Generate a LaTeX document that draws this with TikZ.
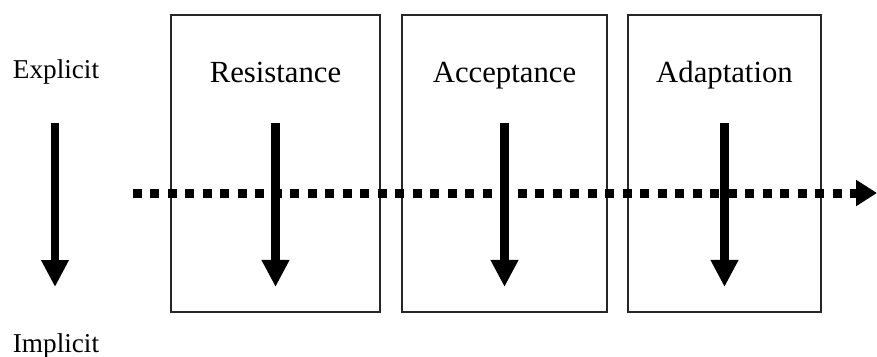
\documentclass[tikz,border=0pt]{standalone}
\usepackage{fontspec}
\setmainfont{Liberation Serif}
\usetikzlibrary{arrows.meta}
\tikzset{
  stagebox/.style={draw=black!85,line width=0.9pt,minimum height=5.94cm,inner sep=0pt},
  stagename/.style={anchor=base,inner sep=0pt,font=\fontsize{17.5}{20}\selectfont},
  sidename/.style={anchor=base,inner sep=0pt,font=\fontsize{15.5}{18}\selectfont},
  downarrow/.style={line width=0.18cm,-{Triangle[width=0.52cm,length=0.54cm]}},
  flowarrow/.style={line width=0.18cm,dash pattern=on 0.18cm off 0.17cm,-{Triangle[width=0.5cm,length=0.42cm]}}
}
\begin{document}
\begin{tikzpicture}[x=0.02cm,y=-0.02cm]
  \useasboundingbox (0,0) rectangle (877,356);
  % the three stages
  \node[stagebox,minimum width=4.18cm] (resist) at (275.5,163.5) {};
  \node[stagebox,minimum width=4.10cm] (accept) at (504.5,163.5) {};
  \node[stagebox,minimum width=3.86cm] (adapt) at (724.5,163.5) {};
  \node[stagename] (resistname) at (275.5,82) {Resistance};
  \node[stagename] (acceptname) at (504.5,82) {Acceptance};
  \node[stagename] (adaptname) at (724.5,82) {Adaptation};
  % explicit to implicit
  \node[sidename] (explicit) at (56,78) {Explicit};
  \node[sidename] (implicit) at (56,352) {Implicit};
  \coordinate (sidetop) at (55,123);
  \coordinate (sidebot) at (55,287);
  \draw[downarrow] (sidetop) -- (sidebot);
  \foreach \b in {resist,accept,adapt}
    \draw[downarrow] ([yshift=0.81cm]\b.center) -- ([yshift=-2.47cm]\b.center);
  % time line
  \coordinate (flowstart) at (133,193);
  \coordinate (flowend) at (877,193);
  \draw[flowarrow] (flowstart) -- (flowend);
\end{tikzpicture}
\end{document}
